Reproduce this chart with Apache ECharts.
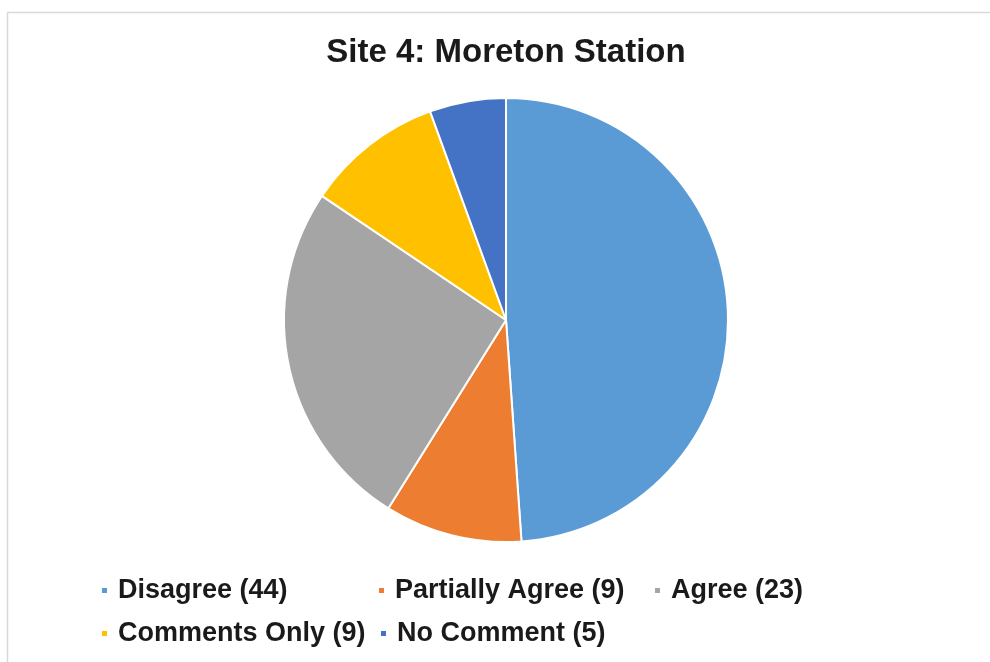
<!DOCTYPE html>
<html>
<head>
<meta charset="utf-8">
<script src="https://cdn.jsdelivr.net/npm/echarts@6/dist/echarts.min.js"></script>
<style>
html,body{margin:0;padding:0;background:#fff;}
#c{width:990px;height:662px;}
</style>
</head>
<body>
<div id="c"></div>
<script>
const titleText = "Site 4: Moreton Station";
const categories = ["Disagree (44)", "Partially Agree (9)", "Agree (23)", "Comments Only (9)", "No Comment (5)"];
const values = [44, 9, 23, 9, 5];
const colors = ["#5B9BD5", "#ED7D31", "#A5A5A5", "#FFC000", "#4472C4"];

const legendPos = [
  {left: 100, top: 577},
  {left: 377, top: 577},
  {left: 653, top: 577},
  {left: 100, top: 620},
  {left: 379, top: 620}
];

const chart = echarts.init(document.getElementById('c'));
const legends = categories.map((name, i) => ({
  data: [name],
  left: legendPos[i].left,
  top: legendPos[i].top,
  icon: 'rect',
  itemWidth: 7,
  itemHeight: 7,
  itemGap: 0,
  padding: 0,
  selectedMode: false,
  textStyle: {
    fontFamily: 'Liberation Sans, Arial, sans-serif',
    fontWeight: 'bold',
    fontSize: 27,
    color: '#1a1a1a',
    padding: [0, 0, 0, 5]
  }
}));

chart.setOption({
  backgroundColor: '#ffffff',
  animation: false,
  color: colors,
  title: {
    text: titleText,
    left: 501,
    textAlign: 'center',
    top: 31,
    textStyle: {
      fontFamily: 'Liberation Sans, Arial, sans-serif',
      fontWeight: 'bold',
      fontSize: 33,
      color: '#1a1a1a'
    }
  },
  graphic: [{
    type: 'rect',
    silent: true,
    shape: {x: 7.5, y: 12.5, width: 1100, height: 800},
    style: {fill: 'none', stroke: '#d9d9d9', lineWidth: 1.5}
  }],
  legend: legends,
  series: [{
    type: 'pie',
    center: [506, 320],
    radius: 222,
    startAngle: 90,
    clockwise: true,
    label: {show: false},
    labelLine: {show: false},
    itemStyle: {borderColor: '#ffffff', borderWidth: 2},
    data: categories.map((name, i) => ({name: name, value: values[i]}))
  }]
});
</script>
</body>
</html>
